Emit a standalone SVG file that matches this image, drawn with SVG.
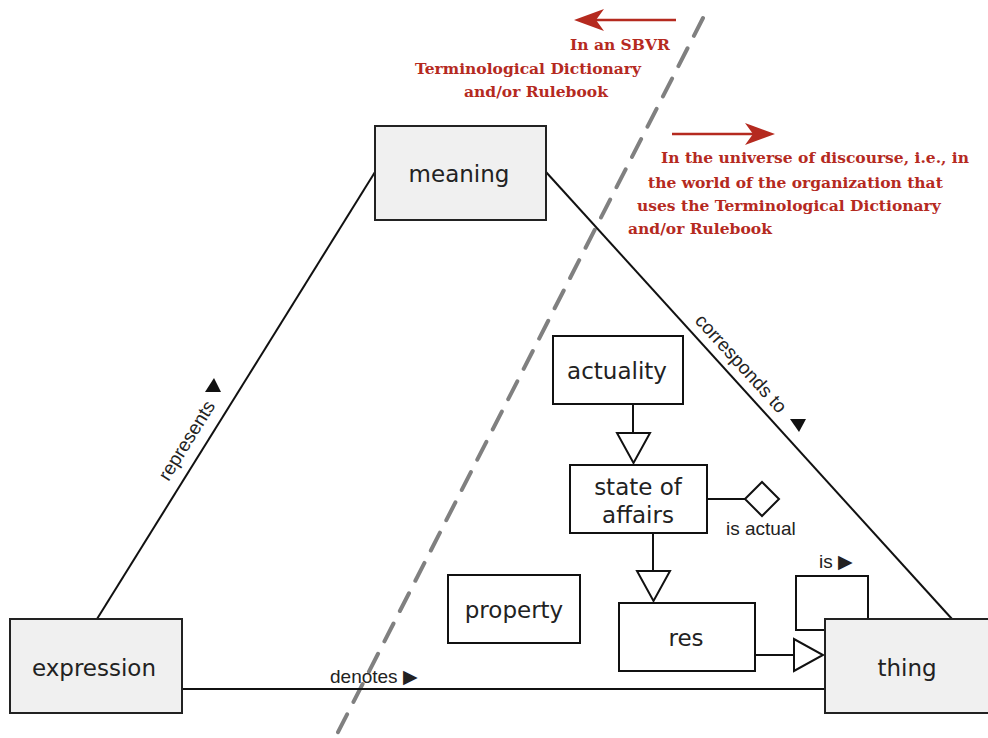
<svg xmlns="http://www.w3.org/2000/svg" width="988" height="738" viewBox="0 0 988 738">
<defs>
<style>
.gbox{fill:#f0f0f0;stroke:#222;stroke-width:2}
.wbox{fill:#fff;stroke:#111;stroke-width:2}
.nt{font-family:"DejaVu Sans",Verdana,sans-serif;font-size:23px;fill:#222;text-anchor:middle}
.lb{font-family:"Liberation Sans",Arial,sans-serif;font-size:19px;fill:#222}
.ln{fill:none;stroke:#111;stroke-width:2}
.red{font-family:"DejaVu Serif","Liberation Serif",serif;font-weight:bold;font-size:15.5px;fill:#b52a1f}
.ra{stroke:#b52a1f;stroke-width:2.5;fill:none}
.rh{fill:#b52a1f}
.tri{fill:#111}
</style>
</defs>
<rect width="988" height="738" fill="#fff"/>

<g id="annotations">
<line class="ra" x1="676" y1="20" x2="596" y2="20"/>
<path class="rh" d="M574,20 L604,9 L596,20 L604,31 Z"/>
<text class="red" x="570" y="50">In an SBVR</text>
<text class="red" x="415" y="74">Terminological Dictionary</text>
<text class="red" x="464" y="97">and/or Rulebook</text>
<line class="ra" x1="672" y1="134" x2="753" y2="134"/>
<path class="rh" d="M775,134 L745,123 L753,134 L745,145 Z"/>
<text class="red" x="661" y="163">In the universe of discourse, i.e., in</text>
<text class="red" x="648" y="188">the world of the organization that</text>
<text class="red" x="637" y="211">uses the Terminological Dictionary</text>
<text class="red" x="628" y="234">and/or Rulebook</text>
<line x1="703" y1="18" x2="335" y2="738" stroke="#808080" stroke-width="4" stroke-dasharray="20,14" stroke-linecap="round"/>
</g>

<g id="connectors">
<line class="ln" x1="97" y1="619" x2="375" y2="172"/>
<line class="ln" x1="546" y1="172" x2="952" y2="619"/>
<line class="ln" x1="182" y1="689" x2="825" y2="689"/>
<line class="ln" x1="633" y1="404" x2="633" y2="433"/>
<path class="wbox" d="M617,433 L650,433 L633.5,463 Z"/>
<line class="ln" x1="653" y1="533" x2="653" y2="571"/>
<path class="wbox" d="M637,571 L670,571 L653.5,601 Z"/>
<line class="ln" x1="755" y1="655" x2="794" y2="655"/>
<path class="wbox" d="M794,639 L794,671 L823,655 Z"/>
<line class="ln" x1="707" y1="499" x2="745" y2="499"/>
<path class="wbox" d="M745,499 L762,482 L779,499 L762,516 Z"/>
<polyline class="ln" points="825,630 796,630 796,576 868,576 868,619"/>
<g transform="translate(202.3,450.1) rotate(-58.2)"><text class="lb" x="0" y="-12" text-anchor="middle">represents</text></g>
<path class="tri" d="M214,378 L205,392 L221,392 Z"/>
<g transform="translate(729.7,373.9) rotate(47.75)"><text class="lb" x="0" y="-9" text-anchor="middle">corresponds to</text></g>
<path class="tri" d="M790,419 L806,419 L799,432 Z"/>
<text class="lb" x="330" y="683">denotes ▶</text>
<text class="lb" x="819" y="568">is ▶</text>
<text class="lb" x="726" y="535">is actual</text>
</g>

<g id="meaning"><rect class="gbox" x="375" y="126" width="171" height="94"/><text class="nt" x="459" y="182">meaning</text></g>
<g id="expression"><rect class="gbox" x="10" y="619" width="172" height="94"/><text class="nt" x="94" y="676">expression</text></g>
<g id="thing"><rect class="gbox" x="825" y="619" width="164" height="94"/><text class="nt" x="907" y="676">thing</text></g>
<g id="actuality"><rect class="wbox" x="553" y="336" width="130" height="68"/><text class="nt" x="617" y="379">actuality</text></g>
<g id="state-of-affairs"><rect class="wbox" x="570" y="465" width="137" height="68"/><text class="nt" x="638" y="495">state of</text><text class="nt" x="638" y="523">affairs</text></g>
<g id="property"><rect class="wbox" x="448" y="575" width="132" height="68"/><text class="nt" x="514" y="618">property</text></g>
<g id="res"><rect class="wbox" x="619" y="603" width="136" height="68"/><text class="nt" x="686" y="646">res</text></g>
</svg>
